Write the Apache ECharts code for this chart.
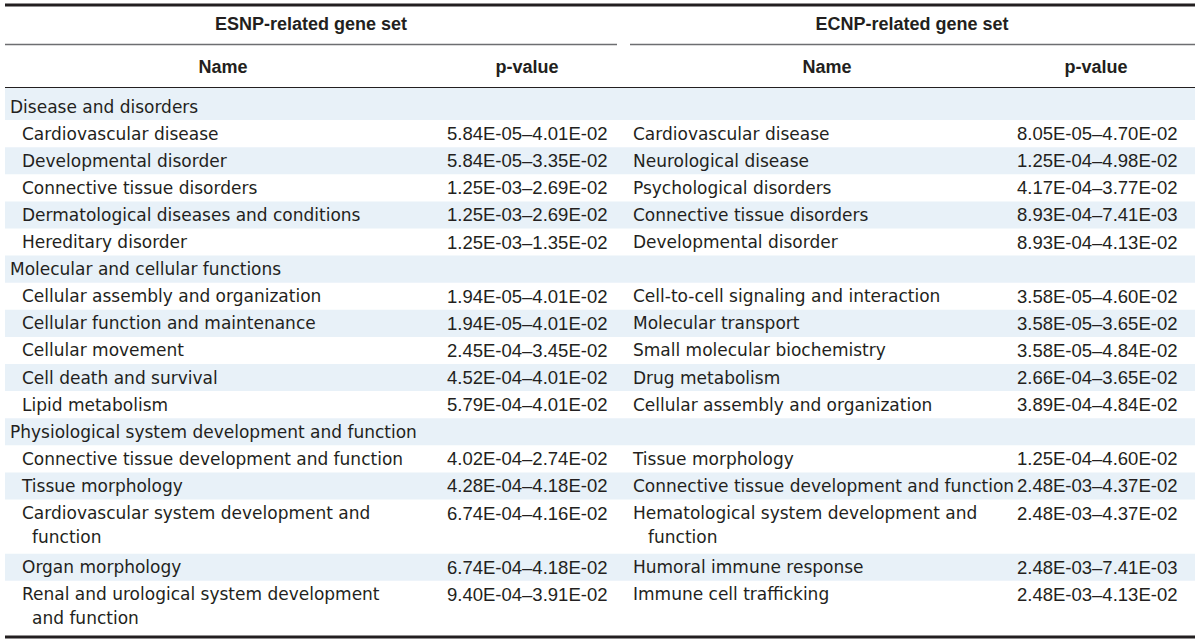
<!DOCTYPE html>
<html>
<head>
<meta charset="utf-8">
<script src="https://cdn.jsdelivr.net/npm/echarts@6/dist/echarts.min.js"></script>
<style>
html, body { margin: 0; padding: 0; background: #fff; }
#chart { width: 1200px; height: 643px; }
</style>
</head>
<body>
<div id="chart"></div>
<script>
// table content
const groupTitles = ['ESNP-related gene set', 'ECNP-related gene set'];
const columnTitles = ['Name', 'p-value'];
const categories = [
  'Disease and disorders',
  'Molecular and cellular functions',
  'Physiological system development and function'
];
const esnpNames = [
  'Cardiovascular disease', 'Developmental disorder', 'Connective tissue disorders',
  'Dermatological diseases and conditions', 'Hereditary disorder',
  'Cellular assembly and organization', 'Cellular function and maintenance', 'Cellular movement',
  'Cell death and survival', 'Lipid metabolism',
  'Connective tissue development and function', 'Tissue morphology',
  'Cardiovascular system development and function', 'Organ morphology',
  'Renal and urological system development and function'
];
const esnpPvalues = [
  '5.84E-05–4.01E-02', '5.84E-05–3.35E-02', '1.25E-03–2.69E-02', '1.25E-03–2.69E-02', '1.25E-03–1.35E-02',
  '1.94E-05–4.01E-02', '1.94E-05–4.01E-02', '2.45E-04–3.45E-02', '4.52E-04–4.01E-02', '5.79E-04–4.01E-02',
  '4.02E-04–2.74E-02', '4.28E-04–4.18E-02', '6.74E-04–4.16E-02', '6.74E-04–4.18E-02', '9.40E-04–3.91E-02'
];
const ecnpNames = [
  'Cardiovascular disease', 'Neurological disease', 'Psychological disorders',
  'Connective tissue disorders', 'Developmental disorder',
  'Cell-to-cell signaling and interaction', 'Molecular transport', 'Small molecular biochemistry',
  'Drug metabolism', 'Cellular assembly and organization',
  'Tissue morphology', 'Connective tissue development and function',
  'Hematological system development and function', 'Humoral immune response',
  'Immune cell trafficking'
];
const ecnpPvalues = [
  '8.05E-05–4.70E-02', '1.25E-04–4.98E-02', '4.17E-04–3.77E-02', '8.93E-04–7.41E-03', '8.93E-04–4.13E-02',
  '3.58E-05–4.60E-02', '3.58E-05–3.65E-02', '3.58E-05–4.84E-02', '2.66E-04–3.65E-02', '3.89E-04–4.84E-02',
  '1.25E-04–4.60E-02', '2.48E-03–4.37E-02', '2.48E-03–4.37E-02', '2.48E-03–7.41E-03', '2.48E-03–4.13E-02'
];
const itemsPerCategory = 5;

const textColor = '#231f20';
const bandColor = '#e8f1f8';
const nameFont = '17px "DejaVu Sans"';
const pvalFont = '18.5px "Liberation Sans"';
const headFont = 'bold 18px "Liberation Sans"';
const wrapWidth = 388;

const measureCtx = document.createElement('canvas').getContext('2d');
function wrap(text) {
  measureCtx.font = nameFont;
  const lines = [];
  let line = '';
  text.split(' ').forEach(function (w) {
    const test = line ? line + ' ' + w : w;
    if (line && measureCtx.measureText(test).width > wrapWidth) {
      lines.push(line);
      line = w;
    } else {
      line = test;
    }
  });
  lines.push(line);
  return lines;
}

// build rows: one unit per text line
const rows = [];
let pos = 0;
categories.forEach(function (cat, g) {
  rows.push({ kind: 'cat', start: pos, units: 1, text: cat });
  pos += 1;
  for (let k = 0; k < itemsPerCategory; k++) {
    const i = g * itemsPerCategory + k;
    const l = wrap(esnpNames[i]);
    const r = wrap(ecnpNames[i]);
    const units = Math.max(l.length, r.length);
    rows.push({ kind: 'item', start: pos, units: units, left: l, right: r, lp: esnpPvalues[i], rp: ecnpPvalues[i] });
    pos += units;
  }
});
const totalUnits = pos;

const colX = { cat: 10, name: 22, indent: 10, lp: 447, rname: 633, rp: 1017, bandL: 5, bandR: 1195 };

function renderRow(params, api) {
  const idx = params.dataIndex;
  const row = rows[idx];
  const top = api.coord([0, row.start])[1];
  const bottom = api.coord([0, row.start + row.units])[1];
  const unitPx = api.coord([0, 1])[1] - api.coord([0, 0])[1];
  const x = function (v) { return api.coord([v, 0])[0]; };
  const children = [];
  if (idx % 2 === 0) {
    const extra = idx === 0 ? 5 : 0;
    children.push({
      type: 'rect',
      shape: { x: x(colX.bandL), y: top - extra, width: x(colX.bandR) - x(colX.bandL), height: bottom - top + extra },
      style: { fill: bandColor }
    });
  }
  const firstY = top + unitPx / 2;
  const lineGap = 24;
  function txt(s, xx, yy, font) {
    children.push({
      type: 'text',
      style: { text: s, x: xx, y: yy, font: font, fill: textColor, align: 'left', verticalAlign: 'middle' }
    });
  }
  if (row.kind === 'cat') {
    txt(row.text, x(colX.cat), firstY, nameFont);
  } else {
    row.left.forEach(function (s, j) {
      txt(s, x(colX.name) + (j ? colX.indent : 0), firstY + j * lineGap, nameFont);
    });
    row.right.forEach(function (s, j) {
      txt(s, x(colX.rname) + (j ? colX.indent + 5 : 0), firstY + j * lineGap, nameFont);
    });
    txt(row.lp, x(colX.lp), firstY, pvalFont);
    txt(row.rp, x(colX.rp), firstY, pvalFont);
  }
  return { type: 'group', children: children };
}

function hline(x1, x2, y, w, c) {
  return { type: 'line', silent: true, shape: { x1: x1, y1: y, x2: x2, y2: y }, style: { stroke: c, lineWidth: w } };
}
function head(s, cx, cy) {
  return { type: 'text', silent: true, style: { text: s, x: cx, y: cy, font: headFont, fill: textColor, align: 'center', verticalAlign: 'middle' } };
}

const chart = echarts.init(document.getElementById('chart'), null, { renderer: 'svg' });
chart.setOption({
  animation: false,
  grid: { left: 0, right: 0, top: 93, bottom: 8 },
  xAxis: { type: 'value', min: 0, max: 1200, show: false },
  yAxis: { type: 'value', min: 0, max: totalUnits, inverse: true, show: false },
  graphic: [
    hline(5, 1195, 5, 3, textColor),
    head(groupTitles[0], 311, 24),
    head(groupTitles[1], 912, 24),
    hline(5, 617, 44.5, 1.5, '#6d6e71'),
    hline(630, 1195, 44.5, 1.5, '#6d6e71'),
    head(columnTitles[0], 223, 67),
    head(columnTitles[1], 527, 67),
    head(columnTitles[0], 827, 67),
    head(columnTitles[1], 1096, 67),
    hline(5, 1195, 87.5, 1, textColor),
    hline(5, 1195, 637, 3, textColor)
  ],
  series: [{
    type: 'custom',
    silent: true,
    clip: false,
    renderItem: renderRow,
    data: rows.map(function (r) { return [0, r.start]; })
  }]
});
</script>
</body>
</html>
